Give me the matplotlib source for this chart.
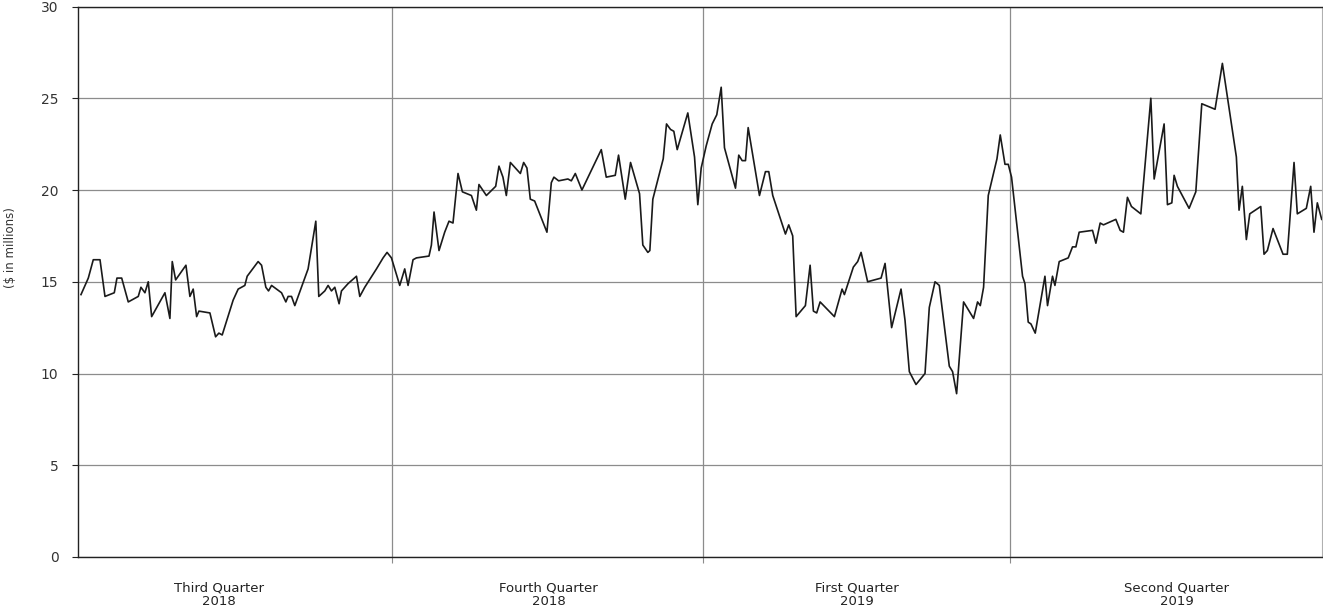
import matplotlib
matplotlib.use("Agg")
import matplotlib.pyplot as plt
from matplotlib.transforms import blended_transform_factory

# Trading-day index (x) and value in $ millions (y)
days = [0.6, 2.07, 3.07, 4.42, 5.42, 7.29, 7.83, 8.78, 10.10, 12.11, 12.65, 13.45, 14.12, 14.80,
        17.47, 18.47, 18.94, 19.62, 21.69, 22.49, 23.15, 23.84, 24.30, 26.51, 27.65, 28.31, 28.98,
        31.18, 32.19, 33.53, 34.00, 36.20, 36.89, 37.75, 38.29, 38.90, 39.90, 40.90, 41.77, 42.23,
        42.91, 43.57, 46.24, 47.79, 48.39, 49.60, 50.26, 50.94, 51.61, 52.47, 52.95, 54.28, 55.96,
        56.63, 57.63, 59.98, 61.31, 62.11, 62.99, 64.66, 65.66, 66.33, 67.33, 68.01, 70.54, 71.02,
        71.55, 72.55, 73.69, 74.56, 75.36, 76.37, 77.25, 79.06, 80.06, 80.58, 82.07, 83.94, 84.60,
        85.40, 86.08, 86.89, 88.90, 89.56, 90.22, 90.90, 91.77, 94.24, 95.12, 95.64, 96.59, 98.45,
        99.14, 99.94, 101.27, 105.16, 106.16, 107.97, 108.63, 109.98, 111.04, 112.85, 113.51,
        114.52, 114.92, 115.52, 117.61, 118.27, 119.08, 119.74, 120.42, 122.55, 123.90, 124.56,
        125.24, 126.24, 127.45, 128.37, 129.26, 129.92, 132.13, 132.79, 133.47, 134.14, 134.68,
        136.95, 138.15, 138.82, 139.62, 142.17, 142.83, 143.63, 144.32, 146.18, 147.13, 147.79,
        148.45, 149.14, 152.01, 153.55, 154.02, 155.82, 156.69, 157.37, 158.69, 161.39, 162.19,
        163.51, 165.40, 166.20, 167.07, 168.41, 170.22, 171.08, 172.23, 173.09, 175.10, 175.76,
        176.57, 177.97, 179.98, 180.78, 181.33, 181.99, 182.93, 184.68, 185.34, 186.29, 186.95,
        187.61, 189.82, 190.30, 190.96, 191.51, 192.37, 194.32, 194.84, 195.84, 196.33, 197.19,
        199.00, 199.86, 200.54, 201.20, 203.88, 204.56, 205.42, 206.08, 208.57, 209.44, 210.10,
        210.90, 211.71, 213.59, 215.60, 216.27, 218.27, 218.94, 219.82, 220.28, 220.94, 223.29,
        224.64, 225.84, 228.51, 229.98, 232.79, 233.33, 233.99, 234.80, 235.48, 237.69, 238.35,
        239.02, 240.16, 242.17, 243.03, 244.38, 245.04, 246.85, 247.73, 248.39, 249.06, 249.94]

values = [14.3, 15.2, 16.2, 16.2, 14.2, 14.4, 15.2, 15.2, 13.9, 14.2, 14.7, 14.4, 15.0, 13.1,
          14.4, 13.0, 16.1, 15.1, 15.9, 14.2, 14.6, 13.1, 13.4, 13.3, 12.0, 12.2, 12.1,
          14.0, 14.6, 14.8, 15.3, 16.1, 15.9, 14.7, 14.5, 14.8, 14.6, 14.4, 13.9, 14.2,
          14.2, 13.7, 15.7, 18.3, 14.2, 14.5, 14.8, 14.5, 14.7, 13.8, 14.5, 14.9, 15.3,
          14.2, 14.7, 15.7, 16.3, 16.6, 16.3, 14.8, 15.7, 14.8, 16.2, 16.3, 16.4, 17.0,
          18.8, 16.7, 17.7, 18.3, 18.2, 20.9, 19.9, 19.7, 18.9, 20.3, 19.7, 20.2, 21.3,
          20.7, 19.7, 21.5, 20.9, 21.5, 21.2, 19.5, 19.4, 17.7, 20.4, 20.7, 20.5, 20.6,
          20.5, 20.9, 20.0, 22.2, 20.7, 20.8, 21.9, 19.5, 21.5, 19.8, 17.0,
          16.6, 16.7, 19.5, 21.7, 23.6, 23.3, 23.2, 22.2, 24.2, 21.8, 19.2,
          21.2, 22.4, 23.6, 24.1, 25.6, 22.3, 20.1, 21.9, 21.6, 21.6, 23.4,
          19.7, 21.0, 21.0, 19.7, 17.6, 18.1, 17.5, 13.1, 13.7, 15.9, 13.4,
          13.3, 13.9, 13.1, 14.6, 14.3, 15.8, 16.1, 16.6, 15.0, 15.2, 16.0,
          12.5, 14.6, 12.9, 10.1, 9.4, 10.0, 13.6, 15.0, 14.8, 10.4, 10.1,
          8.9, 13.9, 13.0, 13.9, 13.7, 14.7, 19.7, 21.7, 23.0, 21.4, 21.4,
          20.7, 15.3, 14.9, 12.8, 12.7, 12.2, 15.3, 13.7, 15.3, 14.8, 16.1,
          16.3, 16.9, 16.9, 17.7, 17.8, 17.1, 18.2, 18.1, 18.4, 17.8, 17.7,
          19.6, 19.1, 18.7, 25.0, 20.6, 23.6, 19.2, 19.3, 20.8, 20.2, 19.0,
          19.9, 24.7, 24.4, 26.9, 21.8, 18.9, 20.2, 17.3, 18.7, 19.1, 16.5,
          16.7, 17.9, 16.5, 16.5, 21.5, 18.7, 19.0, 20.2, 17.7, 19.3, 18.4]

quarter_bounds = [63.05, 125.7, 187.35]
quarter_labels = ["Third Quarter\n2018", "Fourth Quarter\n2018", "First Quarter\n2019", "Second Quarter\n2019"]
quarter_label_pos = [28.3, 94.6, 156.6, 220.8]
y_ticks = [0, 5, 10, 15, 20, 25, 30]

plt.rcParams['font.family'] = ['DejaVu Sans']

fig = plt.figure(figsize=(13.23, 6.13), dpi=100)
ax = fig.add_axes([78 / 1323, 56 / 613, 1244 / 1323, 550.5 / 613])

grid_c = '#8c8c8c'
ax.set_xlim(0, 250)
ax.set_ylim(0, 30)
ax.set_yticks(y_ticks)
ax.set_xticks(quarter_bounds)
ax.set_xticklabels([])
ax.grid(True, color=grid_c, linewidth=0.9)
ax.set_axisbelow(True)

ax.plot(days, values, color='#1a1a1a', linewidth=1.2, zorder=3)

for s in ['left', 'bottom', 'top']:
    ax.spines[s].set_color('#222222')
    ax.spines[s].set_linewidth(1.0)
ax.spines['right'].set_color('#b0b0b0')
ax.spines['right'].set_linewidth(0.8)

ax.tick_params(axis='y', length=4, width=0.8, color='#222222', pad=10, labelsize=10, labelcolor='#333333')
ax.tick_params(axis='x', length=4, width=0.8, color=grid_c)

trans = blended_transform_factory(ax.transData, ax.transAxes)
for pos, lab in zip(quarter_label_pos, quarter_labels):
    ax.text(pos, -0.069, lab, transform=trans, ha='center', va='center', fontsize=9.5,
            color='#222222', linespacing=1.1)

fig.text(10.5 / 1323, 1 - 248 / 613, '($ in millions)', rotation=90, ha='center', va='center',
         fontsize=8.5, color='#333333')

fig.savefig('out.png', dpi=100, facecolor='white')
